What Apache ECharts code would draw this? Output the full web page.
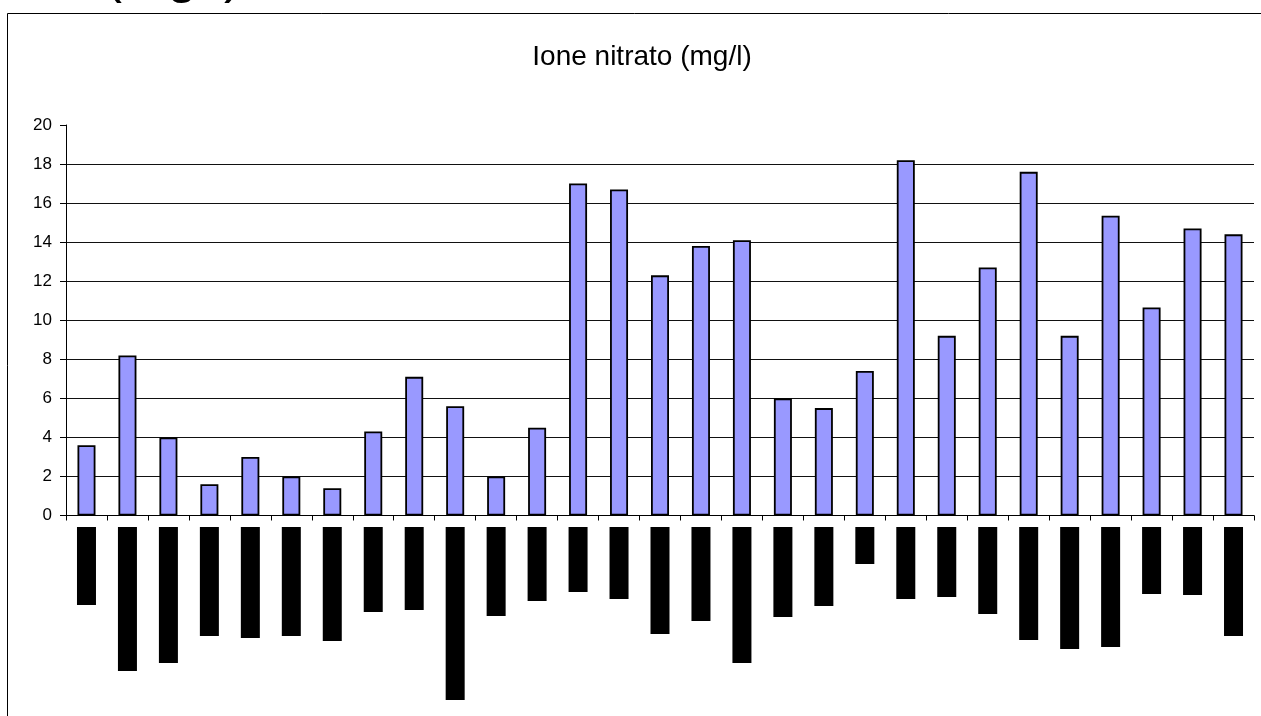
<!DOCTYPE html>
<html>
<head>
<meta charset="utf-8">
<script src="https://cdn.jsdelivr.net/npm/echarts@6/dist/echarts.min.js"></script>
<style>
html,body{margin:0;padding:0;background:#fff;}
#chart{width:1261px;height:716px;}
</style>
</head>
<body>
<div id="chart"></div>
<script>
// Category indices (labels are illegible in the reference, rendered as black blocks)
const categories = ['1','2','3','4','5','6','7','8','9','10','11','12','13','14','15','16','17','18','19','20','21','22','23','24','25','26','27','28','29'];
// Nitrate ion values (mg/l)
const nitrate = [3.6, 8.2, 4.0, 1.6, 3.0, 2.0, 1.4, 4.3, 7.1, 5.6, 2.0, 4.5, 17.0, 16.7, 12.3, 13.8, 14.1, 6.0, 5.5, 7.4, 18.2, 9.2, 12.7, 17.6, 9.2, 15.35, 10.65, 14.7, 14.4];
// Lengths of the blacked-out category label blocks (relative units)
const labelBlocks = [78, 144, 136, 109, 111, 109, 114, 85, 83, 173, 89, 74, 65, 72, 107, 94, 136, 90, 79, 37, 72, 70, 87, 113, 122, 120, 67, 68, 109];
const yTicks = { min: 0, max: 20, interval: 2 };
const titleText = 'Ione nitrato (mg/l)';

const FONT = '"Liberation Sans", Arial, sans-serif';
const chart = echarts.init(document.getElementById('chart'));
chart.setOption({
  animation: false,
  backgroundColor: '#fff',
  title: {
    text: titleText,
    left: 637,
    textAlign: 'center',
    top: 38,
    textStyle: { fontFamily: FONT, fontSize: 28, fontWeight: 'normal', color: '#000' }
  },
  graphic: [
    { type: 'rect', silent: true, z: -1,
      shape: { x: 7.5, y: 13.5, width: 1300, height: 800 },
      style: { fill: 'none', stroke: '#000', lineWidth: 1 } },
    { type: 'text', silent: true, x: 242, y: 4,
      style: { text: titleText, align: 'right', verticalAlign: 'bottom',
        fontSize: 54, fontFamily: FONT, fontWeight: 'normal', fill: '#000' } }
  ],
  grid: [
    { left: 66, right: 7, top: 125, height: 390.5 },
    { left: 66, right: 7, top: 527, height: 180 }
  ],
  xAxis: [
    { type: 'category', gridIndex: 0, data: categories,
      axisLine: { lineStyle: { color: '#000', width: 1 } },
      axisTick: { show: true, length: 5, lineStyle: { color: '#000' } },
      axisLabel: { show: false },
      splitLine: { show: false } },
    { type: 'category', gridIndex: 1, data: categories, show: false }
  ],
  yAxis: [
    { type: 'value', gridIndex: 0, min: yTicks.min, max: yTicks.max, interval: yTicks.interval,
      axisLine: { show: true, lineStyle: { color: '#000', width: 1 } },
      axisTick: { show: true, length: 6, lineStyle: { color: '#000' } },
      axisLabel: { fontFamily: FONT, fontSize: 17, color: '#000', margin: 14 },
      splitLine: { show: true, showMaxLine: false, lineStyle: { color: '#111', width: 1 } } },
    { type: 'value', gridIndex: 1, min: 0, max: 180, inverse: true, show: false }
  ],
  series: [
    { type: 'bar', xAxisIndex: 0, yAxisIndex: 0, data: nitrate, barWidth: 18,
      itemStyle: { color: '#9999FF', borderColor: '#000', borderWidth: 1.8 } },
    { type: 'bar', xAxisIndex: 1, yAxisIndex: 1, data: labelBlocks, barWidth: 19,
      itemStyle: { color: '#000' } }
  ]
});
</script>
</body>
</html>
